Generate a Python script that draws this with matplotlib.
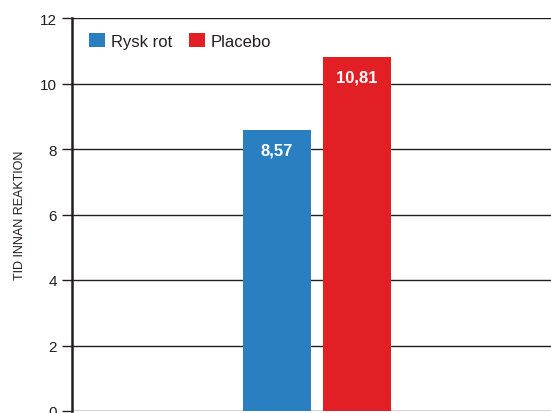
import matplotlib.pyplot as plt

# data
groups = ['Rysk rot', 'Placebo']
values = [8.57, 10.81]
value_labels = ['8,57', '10,81']
colors = ['#2a7fc1', '#e31f26']
yticks = [0, 2, 4, 6, 8, 10, 12]

plt.rcParams['font.family'] = ['Liberation Sans', 'DejaVu Sans']
ink = '#231f20'

fig = plt.figure(figsize=(5.51, 4.14), dpi=100)
ax = fig.add_axes([72 / 551, 2 / 414, 1 - 72 / 551, 393 / 414])

xs = list(range(len(values)))
bars = ax.bar(xs, values, width=0.85, color=colors, zorder=3)

# value labels inside top of bars
for x, v, txt in zip(xs, values, value_labels):
    ax.text(x, v - 0.6, txt, ha='center', va='center', color='white',
            fontsize=12, fontweight='bold', zorder=4)

ax.set_xlim(-2.5625, 3.425)
ax.set_ylim(0, 12)
ax.set_yticks(yticks)
ax.set_xticks([])
ax.yaxis.grid(True, color=ink, linewidth=1.0, zorder=0)
ax.tick_params(axis='y', length=7, width=1.0, color=ink, labelcolor=ink,
               labelsize=11, pad=4)

for side in ['top', 'right', 'bottom']:
    ax.spines[side].set_visible(False)
ax.spines['left'].set_linewidth(1.8)
ax.spines['left'].set_color(ink)

ax.set_ylabel('TID INNAN REAKTION', fontsize=9, color=ink, labelpad=10)

ax.legend(handles=list(bars), labels=groups, loc='upper left', frameon=False,
          fontsize=12, handlelength=0.95, handleheight=0.95, handletextpad=0.35,
          columnspacing=1.0, ncol=2, bbox_to_anchor=(0.005, 1.0),
          labelcolor=ink)

fig.savefig('out.png', dpi=100)
